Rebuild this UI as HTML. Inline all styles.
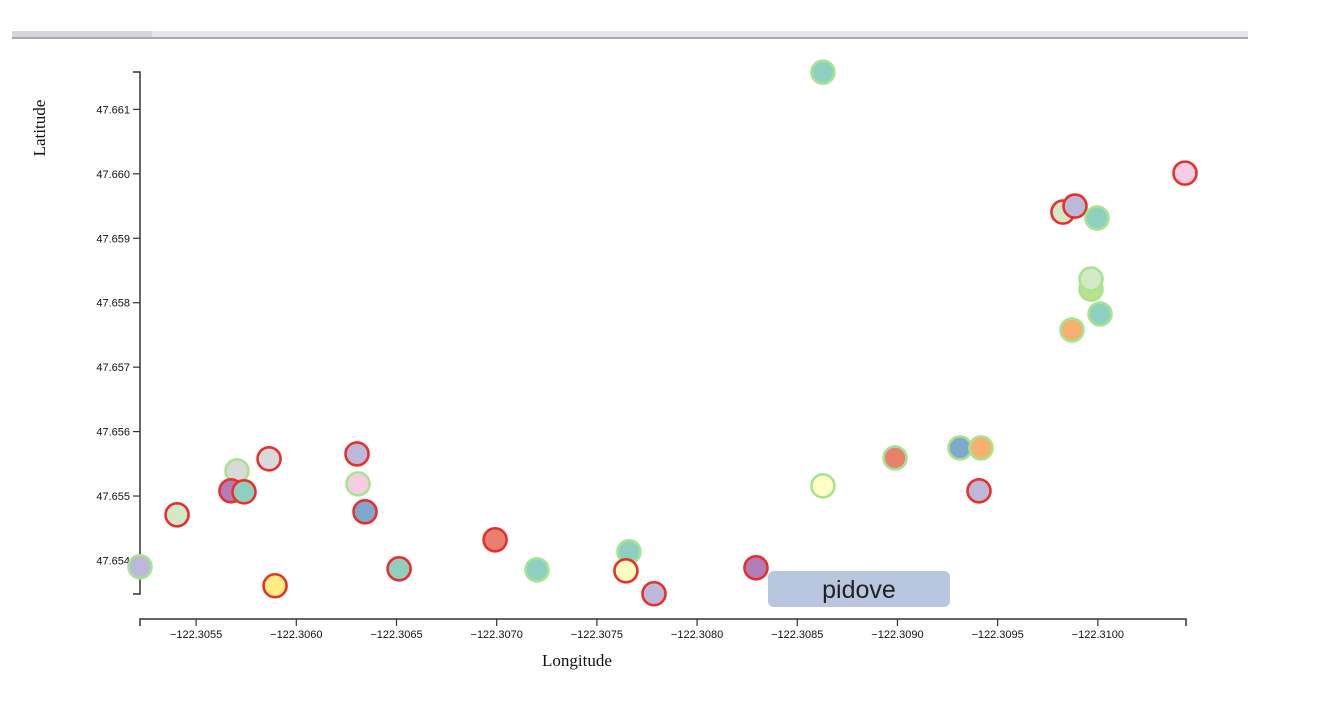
<!DOCTYPE html>
<html><head><meta charset="utf-8"><style>
html,body{margin:0;padding:0;background:#fff;width:1333px;height:708px;overflow:hidden}
svg{display:block}
</style></head><body>
<svg id="chart" width="1333" height="708" xmlns="http://www.w3.org/2000/svg">
<rect x="12" y="31" width="1236" height="7" fill="#e6e6ea"/>
<rect x="12" y="31" width="140" height="7" fill="#d6d6da"/>
<rect x="12" y="37" width="1236" height="2" fill="#a9a9ae"/>
<g id="xaxis"></g>
<g id="yaxis"></g>
<text x="577" y="666" text-anchor="middle" font-family="Liberation Serif, serif" font-size="17" fill="#111">Longitude</text>
<text transform="translate(45,128) rotate(-90)" text-anchor="middle" font-family="Liberation Serif, serif" font-size="17" fill="#111">Latitude</text>
<g id="points"></g>
<g>
<rect x="768" y="571" width="182" height="36" rx="6" fill="#b8c6e0"/>
<text x="859" y="598" text-anchor="middle" font-family="Liberation Sans, sans-serif" font-size="25" fill="#222">pidove</text>
</g>
</svg>
<script>
const lons=[-122.30522,-122.305405,-122.305704,-122.305864,-122.305674,-122.305739,-122.305894,-122.306303,-122.306308,-122.306343,-122.306513,-122.306992,-122.307201,-122.307660,-122.307645,-122.307785,-122.308294,-122.308628,-122.308628,-122.308988,-122.309312,-122.309417,-122.309407,-122.309826,-122.309886,-122.309996,-122.309966,-122.309966,-122.310011,-122.309871,-122.310435];
const lats=[47.653902,47.654709,47.655391,47.655577,47.655081,47.655065,47.653608,47.655654,47.655189,47.654755,47.653871,47.654321,47.653856,47.654135,47.653840,47.653484,47.653887,47.661577,47.655158,47.655592,47.655747,47.655747,47.655081,47.659406,47.659499,47.659313,47.658212,47.658367,47.657825,47.657577,47.660011];
const fills=["#bcb8d9","#d3e8c6","#d9d9d9","#d9d9d9","#b27cb8","#8fcfc0","#fdec80","#bcb8d9","#f6cce2","#80a8cc","#8fcfc0","#e8806e","#8fcfc0","#8fcfc0","#ffffc0","#bcb8d9","#b27cb8","#8fcfc0","#ffffc8","#e8806e","#80a8cc","#f6b070","#bcb8d9","#d3e8c6","#bcb8d9","#8fcfc0","#bfe08a","#d3e8c6","#8fcfc0","#f6b070","#f6cce2"];
const strokes=["g","r","g","r","r","r","r","r","g","r","r","r","g","g","r","r","r","g","g","g","g","g","r","r","r","g","g","g","g","g","r"];
const xTicks=[-122.3055,-122.3060,-122.3065,-122.3070,-122.3075,-122.3080,-122.3085,-122.3090,-122.3095,-122.3100];
const yTicks=[47.654,47.655,47.656,47.657,47.658,47.659,47.660,47.661];
const xDom=[-122.30522,-122.31044], xR=[140,1186];
const yDom=[47.65348,47.66158], yR=[594,72];
const sx=v=>xR[0]+(v-xDom[0])/(xDom[1]-xDom[0])*(xR[1]-xR[0]);
const sy=v=>yR[0]+(v-yDom[0])/(yDom[1]-yDom[0])*(yR[1]-yR[0]);
const NS="http://www.w3.org/2000/svg";
function mk(t,a,p){const e=document.createElementNS(NS,t);for(const k in a)e.setAttribute(k,a[k]);p.appendChild(e);return e;}
const xa=document.getElementById('xaxis'),ya=document.getElementById('yaxis');
let dl=mk('path',{d:`M${xR[0]},626V619H${xR[1]}V626`,fill:'none',stroke:'#333','stroke-width':1.5},xa);


xTicks.forEach(v=>{const x=sx(v);
 const l=mk('line',{x1:x,x2:x,y1:619,y2:626,stroke:'#333','stroke-width':1.2},xa);
 
 
 const t=mk('text',{x:x,y:638,'text-anchor':'middle','font-family':'Liberation Sans, sans-serif','font-size':11,fill:'#111'},xa);
 
 
 t.textContent='\u2212'+Math.abs(v).toFixed(4);});
let yl=mk('path',{d:`M133,${yR[1]}H140V${yR[0]}H133`,fill:'none',stroke:'#333','stroke-width':1.5},ya);


yTicks.forEach(v=>{const y=sy(v);
 const l=mk('line',{x1:133,x2:140,y1:y,y2:y,stroke:'#333','stroke-width':1.2},ya);
 
 
 const t=mk('text',{x:130,y:y+4,'text-anchor':'end','font-family':'Liberation Sans, sans-serif','font-size':11,fill:'#111'},ya);
 
 
 t.textContent=v.toFixed(3);});
const pg=document.getElementById('points');
lons.forEach((lo,i)=>{
 const c=mk('circle',{cx:sx(lo),cy:sy(lats[i]),r:11.5,fill:fills[i],stroke:strokes[i]==='r'?'#e8302a':'#a6e590','stroke-width':2.6},pg);
 
 
});
</script>
</body></html>
